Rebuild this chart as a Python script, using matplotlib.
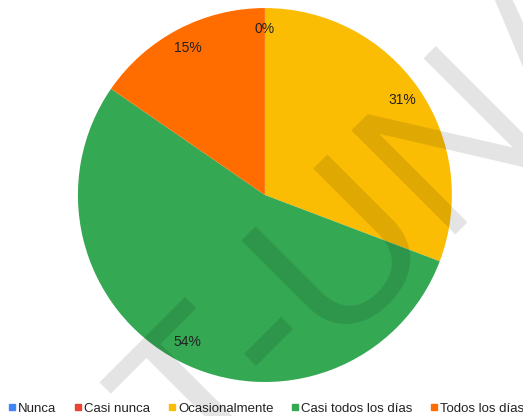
import matplotlib.pyplot as plt
from matplotlib.lines import Line2D

labels = ['Nunca', 'Casi nunca', 'Ocasionalmente', 'Casi todos los días', 'Todos los días']
counts = [0, 0, 4, 7, 2]
colors = ['#4285F4', '#EA4335', '#FBBC04', '#34A853', '#FF6D01']

plt.rcParams['font.family'] = ['Liberation Sans', 'DejaVu Sans']

fig = plt.figure(figsize=(5.23, 4.16), dpi=100)
ax = fig.add_axes([0.149, 0.0817, 0.715, 0.899])

total = sum(counts)
pct_labels = []
shown_zero = False
for c in counts:
    if c == 0:
        # both zero slices sit at the top, only one label shows
        pct_labels.append('' if shown_zero else '0%')
        shown_zero = True
    else:
        pct_labels.append('%d%%' % round(100 * c / total))

wedges, texts = ax.pie(counts, colors=colors, startangle=90, counterclock=False,
                       labels=pct_labels, labeldistance=0.89,
                       textprops={'fontsize': 10, 'color': '#222222'})
for t in texts:
    t.set_horizontalalignment('center')
    t.set_verticalalignment('center')
ax.set_xlim(-1, 1)
ax.set_ylim(-1, 1)
ax.set_aspect('equal')

# watermark
fig.text(0.381, -0.169, 'T-UNA', fontsize=154, color='black', alpha=0.11, rotation=45,
         rotation_mode='anchor', ha='left', va='baseline')

handles = [Line2D([], [], marker='s', linestyle='', markersize=5, color=c) for c in colors]
fig.legend(handles, labels, loc='center', bbox_to_anchor=(0.51, 0.018), ncol=5, frameon=False,
           fontsize=9.5, handlelength=0.5, handletextpad=0.2, columnspacing=1.4,
           borderaxespad=0, labelcolor='#222222')

fig.savefig('out.png', dpi=100)
